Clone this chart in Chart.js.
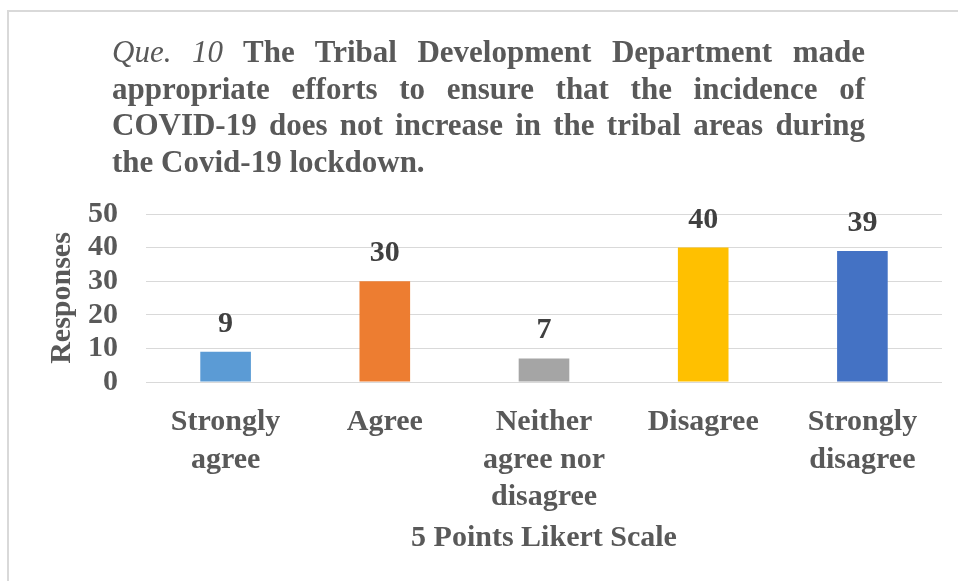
<!DOCTYPE html>
<html>
<head>
<meta charset="utf-8">
<script src="https://cdn.jsdelivr.net/npm/chart.js@4/dist/chart.umd.min.js"></script>
<style>
  html, body { margin: 0; padding: 0; background: #ffffff; overflow: hidden; }
  #wrap { position: relative; width: 958px; height: 581px; overflow: hidden; background: #fff; }
  #frame { position: absolute; left: 7px; top: 10px; width: 1200px; height: 1000px; border: 2px solid #d9d9d9; box-sizing: border-box; pointer-events: none; }
  #title { position: absolute; left: 112px; top: 34px; width: 753px; font-family: "Liberation Serif", "Times New Roman", serif; font-size: 31px; line-height: 36.5px; font-weight: bold; color: #595959; }
  #title .ln { text-align: justify; text-align-last: justify; white-space: nowrap; }
  #title .ln.last { text-align: left; text-align-last: left; }
  #title i { font-weight: normal; }
  canvas { position: absolute; left: 0; top: 0; }
</style>
</head>
<body>
<div id="wrap">
  <canvas id="c" width="958" height="581"></canvas>
  <div id="frame"></div>
  <div id="title"></div>
</div>
<script>
// ---- data ----
const titlePrefix = "Que. 10";
const titleLines = [
  "The Tribal Development Department made",
  "appropriate efforts to ensure that the incidence of",
  "COVID-19 does not increase in the tribal areas during",
  "the Covid-19 lockdown."
];
const categories = [
  ["Strongly", "agree"],
  ["Agree"],
  ["Neither", "agree nor", "disagree"],
  ["Disagree"],
  ["Strongly", "disagree"]
];
const responses = [9, 30, 7, 40, 39];
const barColors = ["#5B9BD5", "#ED7D31", "#A5A5A5", "#FFC000", "#4472C4"];
const yTitle = "Responses";
const xTitle = "5 Points Likert Scale";
const yMin = 0, yMax = 50, yStep = 10;

// ---- title (real text) ----
const tEl = document.getElementById('title');
titleLines.forEach((t, i) => {
  const d = document.createElement('div');
  d.className = 'ln' + (i === titleLines.length - 1 ? ' last' : '');
  if (i === 0) {
    const it = document.createElement('i');
    it.textContent = titlePrefix;
    d.appendChild(it);
    d.appendChild(document.createTextNode(' ' + t));
  } else {
    d.textContent = t;
  }
  tEl.appendChild(d);
});

// ---- value labels plugin ----
const valueLabels = {
  id: 'valueLabels',
  afterDatasetsDraw(chart) {
    const ctx = chart.ctx;
    const meta = chart.getDatasetMeta(0);
    const ds = chart.data.datasets[0];
    ctx.save();
    ctx.font = 'bold 30px "Liberation Serif", "Times New Roman", serif';
    ctx.fillStyle = '#404040';
    ctx.textAlign = 'center';
    ctx.textBaseline = 'alphabetic';
    meta.data.forEach((el, i) => {
      ctx.fillText(String(ds.data[i]), el.x, el.y - 20);
    });
    ctx.restore();
  }
};

const serif = '"Liberation Serif", "Times New Roman", serif';

new Chart(document.getElementById('c'), {
  type: 'bar',
  data: {
    labels: categories,
    datasets: [{
      data: responses,
      backgroundColor: barColors,
      borderWidth: 0,
      categoryPercentage: 1,
      barPercentage: 0.318
    }]
  },
  options: {
    responsive: false,
    animation: false,
    events: [],
    layout: { padding: { top: 214, left: 40, right: 16, bottom: 25 } },
    plugins: { legend: { display: false }, title: { display: false }, tooltip: { enabled: false } },
    scales: {
      x: {
        grid: { display: false, drawTicks: false },
        border: { display: false },
        ticks: {
          autoSkip: false, maxRotation: 0, minRotation: 0,
          padding: 22,
          color: '#595959',
          font: { family: serif, size: 30, weight: 'bold', lineHeight: 1.24 }
        },
        title: {
          display: true, text: xTitle, color: '#595959',
          padding: { top: 0, bottom: 0 },
          font: { family: serif, size: 30, weight: 'bold', lineHeight: 1.2 }
        },
        afterFit(s) { s.height = 174; }
      },
      y: {
        min: yMin, max: yMax,
        grid: { color: '#D9D9D9', lineWidth: 1, drawTicks: false },
        border: { display: false },
        ticks: {
          autoSkip: false,
          stepSize: yStep, padding: 28, color: '#595959',
          font: { family: serif, size: 30, weight: 'bold', lineHeight: 1.0 }
        },
        title: {
          display: true, text: yTitle, color: '#595959',
          padding: { top: 4, bottom: 0 },
          font: { family: serif, size: 30, weight: 'bold', lineHeight: 1.2 }
        },
        afterFit(s) { s.width = 106; }
      }
    }
  },
  plugins: [valueLabels]
});
</script>
</body>
</html>
